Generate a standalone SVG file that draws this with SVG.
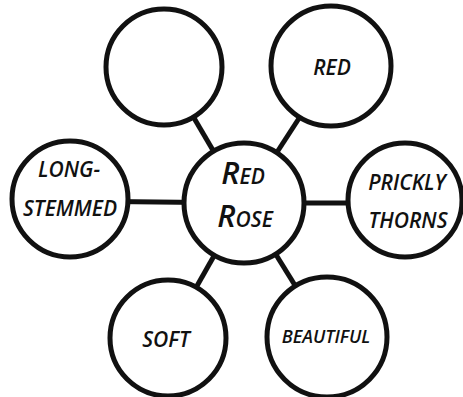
<svg xmlns="http://www.w3.org/2000/svg" width="463" height="397" viewBox="0 0 463 397">
<style>
.c{fill:#fff;stroke:#111;stroke-width:5}
.l{stroke:#111;stroke-width:5;fill:none}
text{font-family:"Open Sans","Liberation Sans",sans-serif;font-style:italic;font-weight:600;fill:#111;text-anchor:middle}
.t{font-size:21px}
</style>
<rect width="463" height="397" fill="#fff"/>
<g id="connectors">
<line class="l" x1="244" y1="203" x2="164" y2="67"/>
<line class="l" x1="244" y1="203" x2="333" y2="66"/>
<line class="l" x1="244" y1="203" x2="70" y2="201"/>
<line class="l" x1="244" y1="203" x2="405" y2="203"/>
<line class="l" x1="244" y1="203" x2="168" y2="337"/>
<line class="l" x1="244" y1="203" x2="327" y2="337"/>
</g>
<g id="center"><circle class="c" cx="244" cy="203" r="60"/>
<text font-weight="500"><tspan x="243" y="184" font-size="31">R</tspan><tspan font-size="21">ED</tspan><tspan x="245" y="227" font-size="31">R</tspan><tspan font-size="21">OSE</tspan></text></g>
<g id="n-empty"><circle class="c" cx="164" cy="67" r="58"/></g>
<g id="n-red"><circle class="c" cx="331" cy="66" r="60"/><text class="t" x="332" y="75">RED</text></g>
<g id="n-long"><circle class="c" cx="70" cy="199" r="58"/><text class="t" x="69" y="177">LONG-</text><text class="t" x="70" y="216">STEMMED</text></g>
<g id="n-prickly"><circle class="c" cx="405" cy="200" r="57"/><text class="t" x="407" y="190">PRICKLY</text><text class="t" x="408" y="228">THORNS</text></g>
<g id="n-soft"><circle class="c" cx="168" cy="338" r="58"/><text class="t" x="166" y="347">SOFT</text></g>
<g id="n-beautiful"><circle class="c" cx="327" cy="337" r="60"/><text x="326" y="343" font-size="18">BEAUTIFUL</text></g>
</svg>
